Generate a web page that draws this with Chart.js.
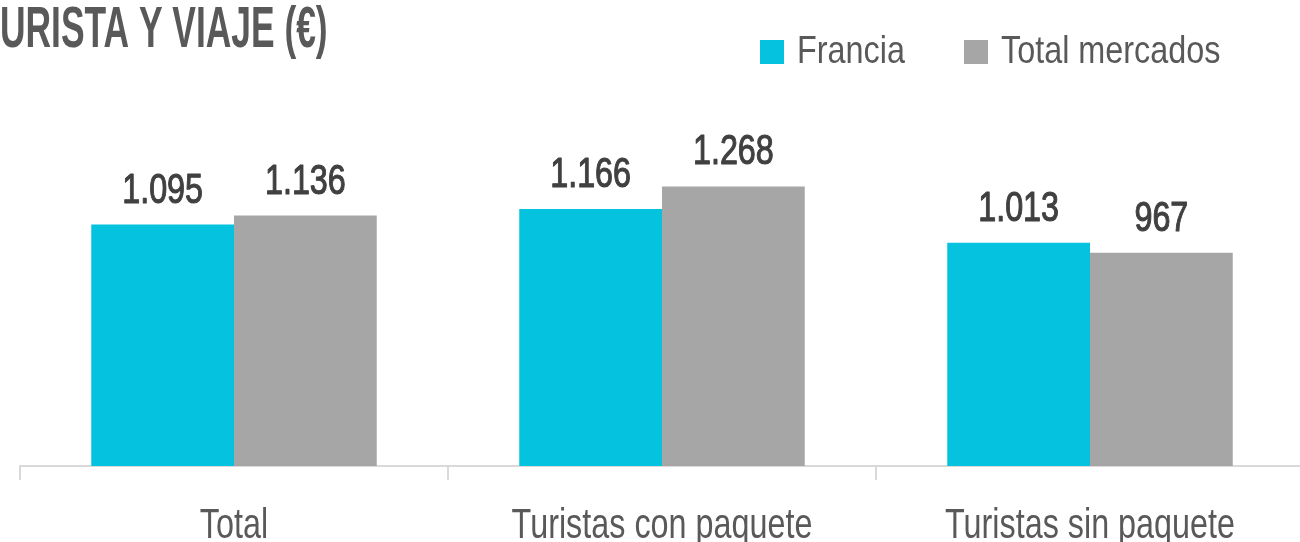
<!DOCTYPE html>
<html>
<head>
<meta charset="utf-8">
<script src="https://cdn.jsdelivr.net/npm/chart.js@4/dist/chart.umd.min.js"></script>
<style>
  html, body { margin: 0; padding: 0; background: #ffffff; overflow: hidden; }
  #wrap { position: relative; width: 1304px; height: 542px; }
</style>
</head>
<body>
<div id="wrap"><canvas id="c"></canvas></div>
<script>
const categories = ['Total', 'Turistas con paquete', 'Turistas sin paquete'];
const seriesNames = ['Francia', 'Total mercados'];
const francia = [1095, 1166, 1013];
const totalMercados = [1136, 1268, 967];
const titleText = 'URISTA Y VIAJE (€)';

const FONT = "'Liberation Sans', Arial, sans-serif";
const colors = ['#05C3DE', '#A6A6A6'];

function fmt(v) {
  return String(v).replace(/\B(?=(\d{3})+(?!\d))/g, '.');
}

// draw horizontally condensed text (narrow face look)
function narrowText(ctx, text, x, y, font, sx, align, color, stroke) {
  ctx.save();
  ctx.font = font;
  ctx.fillStyle = color;
  ctx.textBaseline = 'alphabetic';
  ctx.textAlign = align;
  ctx.translate(x, y);
  ctx.scale(sx, 1);
  ctx.fillText(text, 0, 0);
  if (stroke) {
    ctx.strokeStyle = color;
    ctx.lineWidth = stroke;
    ctx.lineJoin = 'round';
    ctx.strokeText(text, 0, 0);
  }
  ctx.restore();
}

const decorPlugin = {
  id: 'decor',
  afterDraw(chart) {
    const ctx = chart.ctx;
    // Title (cut at the left edge, as in the reference)
    narrowText(ctx, titleText, 0, 47, 'bold 58px ' + FONT, 0.61, 'left', '#595959');

    // Legend
    const legendX = [760, 964];
    chart.data.datasets.forEach((ds, i) => {
      ctx.save();
      ctx.fillStyle = ds.backgroundColor;
      ctx.fillRect(legendX[i], 40, 24, 24);
      ctx.restore();
      narrowText(ctx, ds.label, legendX[i] + 37, 63, '39px ' + FONT, 0.83, 'left', '#595959');
    });

    // Category labels (positions from the x scale)
    const xs = chart.scales.x;
    chart.data.labels.forEach((lab, i) => {
      narrowText(ctx, lab, xs.getPixelForValue(i), 538, '42px ' + FONT, 0.77, 'center', '#595959');
    });

    // Value labels
    chart.data.datasets.forEach((ds, i) => {
      const meta = chart.getDatasetMeta(i);
      meta.data.forEach((bar, j) => {
        narrowText(ctx, fmt(ds.data[j]), bar.x, bar.y - 22, '42px ' + FONT, 0.77, 'center', '#404040', 1.1);
      });
    });
  }
};

new Chart(document.getElementById('c'), {
  type: 'bar',
  data: {
    labels: categories,
    datasets: [
      { label: seriesNames[0], data: francia, backgroundColor: colors[0], borderWidth: 0 },
      { label: seriesNames[1], data: totalMercados, backgroundColor: colors[1], borderWidth: 0 }
    ]
  },
  options: {
    responsive: true,
    maintainAspectRatio: false,
    animation: false,
    devicePixelRatio: 1,
    layout: { padding: { left: 20, right: 0, top: 100, bottom: 0 } },
    categoryPercentage: 0.667,
    barPercentage: 1.0,
    plugins: {
      legend: { display: false },
      title: { display: false },
      tooltip: { enabled: false }
    },
    scales: {
      y: {
        display: false,
        min: 0,
        max: 1660
      },
      x: {
        offset: true,
        grid: {
          display: true,
          offset: true,
          drawOnChartArea: false,
          drawTicks: true,
          tickLength: 14,
          color: '#d9d9d9',
          lineWidth: 2
        },
        border: { display: true, color: '#d9d9d9', width: 2 },
        ticks: { display: false },
        afterFit(scale) { scale.height = 76; }
      }
    }
  },
  plugins: [decorPlugin]
});
</script>
</body>
</html>
